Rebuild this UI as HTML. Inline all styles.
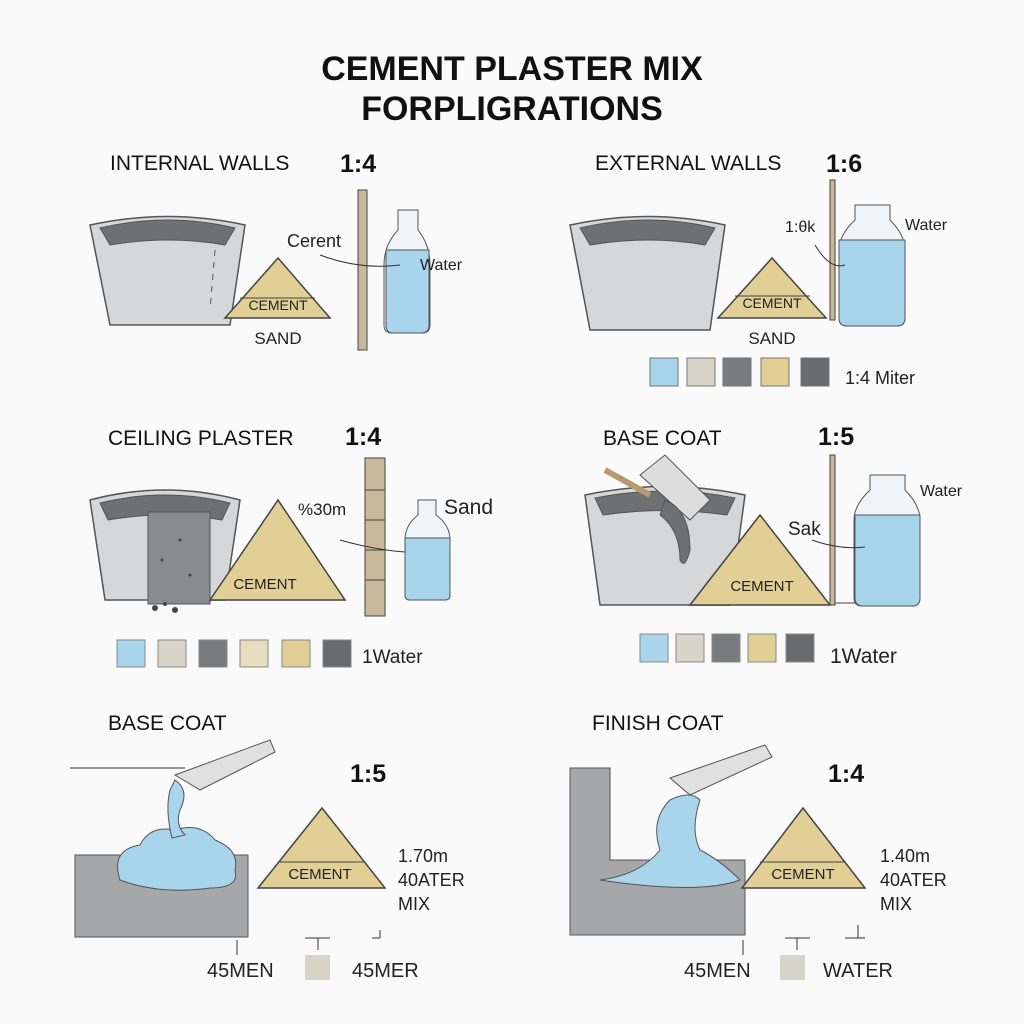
<!DOCTYPE html>
<html><head><meta charset="utf-8"><style>
html,body{margin:0;padding:0;background:#fafafa;}
svg{display:block;font-family:"Liberation Sans",sans-serif;}
</style></head><body>
<svg width="1024" height="1024" viewBox="0 0 1024 1024" xmlns="http://www.w3.org/2000/svg">
<rect width="1024" height="1024" fill="#fafafa"/>
<g font-weight="bold" font-size="34" text-anchor="middle" fill="#111">
<text x="512" y="80">CEMENT PLASTER MIX</text>
<text x="512" y="120">FORPLIGRATIONS</text>
</g>
<g font-size="21" fill="#111">
<text x="110" y="170">INTERNAL WALLS</text>
<text x="595" y="170">EXTERNAL WALLS</text>
<text x="108" y="445">CEILING PLASTER</text>
<text x="603" y="445">BASE COAT</text>
<text x="108" y="730">BASE COAT</text>
<text x="592" y="730">FINISH COAT</text>
</g>
<g font-size="25" font-weight="bold" fill="#111">
<text x="340" y="172">1:4</text>
<text x="826" y="172">1:6</text>
<text x="345" y="445">1:4</text>
<text x="818" y="445">1:5</text>
<text x="350" y="782">1:5</text>
<text x="828" y="782">1:4</text>
</g>

<!-- Panel 1 -->
<path d="M90 225 Q168 208 245 225 L230 325 L110 325 Z" fill="#d6d7d9" stroke="#555" stroke-width="1.5"/>
<path d="M100 228 Q168 212 235 228 L225 245 Q168 235 110 245 Z" fill="#6f7072" stroke="#555"/>
<line x1="215" y1="250" x2="210" y2="310" stroke="#555" stroke-dasharray="6,6"/>
<path d="M225 318 L278 258 L330 318 Z" fill="#e2cf95" stroke="#444" stroke-width="1.5"/>
<line x1="240" y1="298" x2="315" y2="298" stroke="#444"/>
<text x="278" y="310" font-size="14" text-anchor="middle" fill="#222">CEMENT</text>
<text x="278" y="344" font-size="17" text-anchor="middle" fill="#222">SAND</text>
<rect x="358" y="190" width="9" height="160" fill="#c9b99a" stroke="#444"/>
<path d="M398 210 h20 v20 q12 15 12 35 v60 q0 8 -8 8 h-30 q-8 0 -8 -8 v-60 q0 -20 14 -35 z" fill="#eef4f8" stroke="#555"/>
<path d="M386 250 h43 v75 q0 8 -8 8 h-28 q-7 0 -7 -8 z" fill="#a8d4ec" stroke="#555"/>
<text x="287" y="247" font-size="18" fill="#222">Cerent</text>
<path d="M320 255 Q360 270 400 265" fill="none" stroke="#333"/>
<text x="420" y="270" font-size="16" fill="#222">Water</text>

<!-- Panel 2 -->
<path d="M570 225 Q648 208 725 225 L710 330 L590 330 Z" fill="#d6d7d9" stroke="#555" stroke-width="1.5"/>
<path d="M580 228 Q648 212 715 228 L705 245 Q648 235 590 245 Z" fill="#6f7072" stroke="#555"/>
<path d="M718 318 L772 258 L826 318 Z" fill="#e2cf95" stroke="#444" stroke-width="1.5"/>
<line x1="735" y1="296" x2="810" y2="296" stroke="#444"/>
<text x="772" y="308" font-size="14" text-anchor="middle" fill="#222">CEMENT</text>
<text x="772" y="344" font-size="17" text-anchor="middle" fill="#222">SAND</text>
<rect x="830" y="180" width="5" height="140" fill="#c9b99a" stroke="#444"/>
<path d="M855 205 h35 v15 q15 15 15 30 v68 q0 8 -8 8 h-50 q-8 0 -8 -8 v-68 q0 -15 16 -30 z" fill="#eef4f8" stroke="#555"/>
<path d="M839 240 h66 v78 q0 8 -8 8 h-50 q-8 0 -8 -8 z" fill="#a8d4ec" stroke="#555"/>
<text x="785" y="232" font-size="16" fill="#222">1:θk</text>
<path d="M815 245 Q830 270 845 265" fill="none" stroke="#333"/>
<text x="905" y="230" font-size="16" fill="#222">Water</text>
<g stroke="#777">
<rect x="650" y="358" width="28" height="28" fill="#a8d4ec"/>
<rect x="687" y="358" width="28" height="28" fill="#d8d4c8"/>
<rect x="723" y="358" width="28" height="28" fill="#7a7b7d"/>
<rect x="761" y="358" width="28" height="28" fill="#e2cf95"/>
<rect x="801" y="358" width="28" height="28" fill="#6a6b6d"/>
</g>
<text x="845" y="384" font-size="18" fill="#222">1:4 Miter</text>

<!-- Panel 3 -->
<path d="M90 500 Q165 480 240 500 L225 600 L105 600 Z" fill="#d6d7d9" stroke="#555" stroke-width="1.5"/>
<path d="M100 503 Q165 487 230 503 L222 520 Q165 510 108 520 Z" fill="#6f7072" stroke="#555"/>
<rect x="148" y="512" width="62" height="92" fill="#8a8b8d" stroke="#555"/>
<g fill="#444"><circle cx="155" cy="608" r="3"/><circle cx="165" cy="604" r="2"/><circle cx="175" cy="610" r="3"/><circle cx="162" cy="560" r="1.5"/><circle cx="190" cy="575" r="1.5"/><circle cx="180" cy="540" r="1.5"/></g>
<path d="M210 600 L278 500 L345 600 Z" fill="#e2cf95" stroke="#444" stroke-width="1.5"/>
<text x="265" y="589" font-size="15" text-anchor="middle" fill="#222">CEMENT</text>
<rect x="365" y="458" width="20" height="158" fill="#c9b99a" stroke="#444"/>
<g stroke="#444"><line x1="365" y1="490" x2="385" y2="490"/><line x1="365" y1="520" x2="385" y2="520"/><line x1="365" y1="550" x2="385" y2="550"/><line x1="365" y1="580" x2="385" y2="580"/></g>
<path d="M418 500 h18 v15 q14 10 14 25 v55 q0 5 -5 5 h-35 q-5 0 -5 -5 v-55 q0 -15 13 -25 z" fill="#eef4f8" stroke="#555"/>
<path d="M405 538 h45 v57 q0 5 -5 5 h-35 q-5 0 -5 -5 z" fill="#a8d4ec" stroke="#555"/>
<text x="298" y="515" font-size="17" fill="#222">%30m</text>
<path d="M340 540 Q375 550 405 552" fill="none" stroke="#333"/>
<text x="444" y="514" font-size="21" fill="#222">Sand</text>
<g stroke="#888">
<rect x="117" y="640" width="28" height="27" fill="#a8d4ec"/>
<rect x="158" y="640" width="28" height="27" fill="#d8d4c8"/>
<rect x="199" y="640" width="28" height="27" fill="#7a7b7d"/>
<rect x="240" y="640" width="28" height="27" fill="#e6dcc0"/>
<rect x="282" y="640" width="28" height="27" fill="#e2cf95"/>
<rect x="323" y="640" width="28" height="27" fill="#6a6b6d"/>
</g>
<text x="362" y="663" font-size="19" fill="#222">1Water</text>

<!-- Panel 4 -->
<path d="M585 495 Q665 478 745 495 L730 605 L600 605 Z" fill="#d6d7d9" stroke="#555" stroke-width="1.5"/>
<path d="M595 498 Q665 484 735 498 L727 515 Q665 506 603 515 Z" fill="#6f7072" stroke="#555"/>
<path d="M605 470 L650 495" stroke="#b89a70" stroke-width="6"/>
<path d="M640 475 L665 455 L710 500 L690 520 Z" fill="#ddd" stroke="#555"/>
<path d="M665 500 Q690 510 690 550 Q685 570 680 560 Q680 530 660 515 Z" fill="#6f7072" stroke="#555"/>
<path d="M690 605 L760 515 L830 605 Z" fill="#e2cf95" stroke="#444" stroke-width="1.5"/>
<text x="762" y="591" font-size="15" text-anchor="middle" fill="#222">CEMENT</text>
<rect x="830" y="455" width="5" height="150" fill="#c9b99a" stroke="#444"/>
<line x1="835" y1="603" x2="860" y2="603" stroke="#444"/>
<path d="M870 475 h35 v15 q15 15 15 30 v78 q0 8 -8 8 h-50 q-8 0 -8 -8 v-78 q0 -15 16 -30 z" fill="#eef4f8" stroke="#555"/>
<path d="M855 515 h65 v83 q0 8 -8 8 h-49 q-8 0 -8 -8 z" fill="#a8d4ec" stroke="#555"/>
<text x="788" y="535" font-size="19" fill="#222">Sak</text>
<path d="M812 540 Q840 550 865 547" fill="none" stroke="#333"/>
<text x="920" y="496" font-size="16" fill="#222">Water</text>
<g stroke="#888">
<rect x="640" y="634" width="28" height="28" fill="#a8d4ec"/>
<rect x="676" y="634" width="28" height="28" fill="#d8d4c8"/>
<rect x="712" y="634" width="28" height="28" fill="#7a7b7d"/>
<rect x="748" y="634" width="28" height="28" fill="#e2cf95"/>
<rect x="786" y="634" width="28" height="28" fill="#6a6b6d"/>
</g>
<text x="830" y="663" font-size="21" fill="#222">1Water</text>

<!-- Panel 5 -->
<line x1="70" y1="768" x2="185" y2="768" stroke="#333"/>
<path d="M175 775 L270 740 L275 752 L200 790 Z" fill="#e0e0e0" stroke="#555"/>
<rect x="75" y="855" width="173" height="82" fill="#a6a7a9" stroke="#555"/>
<path d="M120 880 Q110 850 140 845 Q150 825 175 830 Q200 822 215 840 Q240 850 235 870 Q240 888 210 888 Q160 895 120 880 Z" fill="#a8d4ec" stroke="#555"/>
<path d="M175 780 Q190 790 180 810 Q175 825 185 835 L172 838 Q165 810 170 790 Z" fill="#a8d4ec" stroke="#555"/>
<path d="M258 888 L322 808 L385 888 Z" fill="#e2cf95" stroke="#444" stroke-width="1.5"/>
<line x1="280" y1="862" x2="365" y2="862" stroke="#444"/>
<text x="320" y="879" font-size="15" text-anchor="middle" fill="#222">CEMENT</text>
<g font-size="18" fill="#222"><text x="398" y="862">1.70m</text><text x="398" y="886">40ATER</text><text x="398" y="910">MIX</text></g>
<g stroke="#333"><line x1="237" y1="940" x2="237" y2="955"/><line x1="305" y1="938" x2="330" y2="938"/><line x1="318" y1="938" x2="318" y2="950"/><line x1="372" y1="938" x2="380" y2="938"/><line x1="380" y1="930" x2="380" y2="938"/></g>
<text x="207" y="977" font-size="20" fill="#222">45MEN</text>
<rect x="305" y="955" width="25" height="25" fill="#d8d4c8"/>
<text x="352" y="977" font-size="20" fill="#222">45MER</text>

<!-- Panel 6 -->
<path d="M570 768 L610 768 L610 860 L745 860 L745 935 L570 935 Z" fill="#a6a7a9" stroke="#555"/>
<path d="M670 778 L765 745 L772 757 L690 795 Z" fill="#e0e0e0" stroke="#555"/>
<path d="M600 880 Q640 875 660 850 Q650 820 670 800 Q690 790 700 800 Q690 830 700 850 Q720 860 740 880 Q700 895 600 880 Z" fill="#a8d4ec" stroke="#555"/>
<path d="M742 888 L803 808 L865 888 Z" fill="#e2cf95" stroke="#444" stroke-width="1.5"/>
<line x1="760" y1="862" x2="845" y2="862" stroke="#444"/>
<text x="803" y="879" font-size="15" text-anchor="middle" fill="#222">CEMENT</text>
<g font-size="18" fill="#222"><text x="880" y="862">1.40m</text><text x="880" y="886">40ATER</text><text x="880" y="910">MIX</text></g>
<g stroke="#333"><line x1="743" y1="940" x2="743" y2="955"/><line x1="785" y1="938" x2="810" y2="938"/><line x1="797" y1="938" x2="797" y2="950"/><line x1="845" y1="938" x2="865" y2="938"/><line x1="858" y1="925" x2="858" y2="938"/></g>
<text x="684" y="977" font-size="20" fill="#222">45MEN</text>
<rect x="780" y="955" width="25" height="25" fill="#d8d4c8"/>
<text x="823" y="977" font-size="20" fill="#222">WATER</text>
</svg>
</body></html>
